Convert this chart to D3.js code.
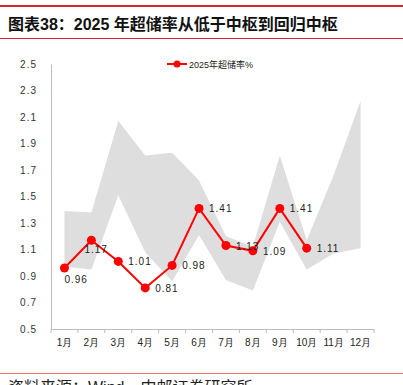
<!DOCTYPE html>
<html lang="zh">
<head>
<meta charset="UTF-8" />
<title>2025年超储率</title>
<script src="https://d3js.org/d3.v7.min.js"></script>
<style>
    body { margin: 0; background: #fff; }
    svg { display: block; font-family: "Liberation Sans", "Noto Sans CJK SC", sans-serif; }
</style>
</head>
<body>
<svg id="chart" width="403" height="385"></svg>
<script>
    // data
    var months = ["1月", "2月", "3月", "4月", "5月", "6月", "7月", "8月", "9月", "10月", "11月", "12月"];
    var rate2025 = [0.96, 1.17, 1.01, 0.81, 0.98, 1.41, 1.13, 1.09, 1.41, 1.11];
    var rangeHigh = [1.39, 1.38, 2.07, 1.81, 1.83, 1.62, 1.20, 1.12, 1.81, 1.17, 1.66, 2.22];
    var rangeLow = [0.97, 0.95, 1.51, 1.08, 0.86, 1.21, 0.87, 0.79, 1.31, 0.95, 1.07, 1.11];
    var yTicks = [0.5, 0.7, 0.9, 1.1, 1.3, 1.5, 1.7, 1.9, 2.1, 2.3, 2.5];
    var labelSide = ["below", "belowRight", "right", "right", "right", "right", "right", "right", "right", "right"];
    var seriesName = "2025年超储率%";

    var svg = d3.select("#chart");

    // header
    svg.append("line").attr("x1", 0).attr("x2", 403).attr("y1", 6).attr("y2", 6)
        .attr("stroke", "#d7262b").attr("stroke-width", 2);
    svg.append("text").attr("x", 8).attr("y", 30)
        .attr("font-size", 16).attr("font-weight", "bold").attr("fill", "#111")
        .text("图表38：2025 年超储率从低于中枢到回归中枢");
    svg.append("line").attr("x1", 0).attr("x2", 403).attr("y1", 38.5).attr("y2", 38.5)
        .attr("stroke", "#d7262b").attr("stroke-width", 1);

    // scales
    var x = d3.scaleBand().domain(months).range([51, 374]);
    var y = d3.scaleLinear().domain([0.5, 2.5]).range([329, 64]);
    var cx = d => x(d) + x.bandwidth() / 2;

    // shaded range
    var area = d3.area()
        .x((d, i) => cx(months[i]))
        .y0((d, i) => y(rangeLow[i]))
        .y1(d => y(d));
    svg.append("path").datum(rangeHigh)
        .attr("d", area)
        .attr("fill", "#dedede");

    // y axis
    var yAxis = svg.append("g").attr("transform", "translate(51,0)")
        .call(d3.axisLeft(y).tickValues(yTicks).tickSize(0).tickPadding(14)
            .tickFormat(d => d3.format(".1f")(d)));
    yAxis.select(".domain").attr("stroke", "#bbb");
    yAxis.selectAll("text").attr("font-size", 10).attr("fill", "#333")
        .attr("font-family", "Liberation Sans, sans-serif").style("letter-spacing", "1px");

    // x axis
    var xAxis = svg.append("g").attr("transform", "translate(0,329)")
        .call(d3.axisBottom(x).tickSize(0).tickPadding(10));
    xAxis.select(".domain").attr("stroke", "#bbb");
    xAxis.selectAll("text").attr("font-size", 10).attr("fill", "#222");
    svg.append("g").selectAll("line")
        .data(months.concat([null]))
        .join("line")
        .attr("x1", (d, i) => 51 + i * x.bandwidth())
        .attr("x2", (d, i) => 51 + i * x.bandwidth())
        .attr("y1", 329).attr("y2", 333)
        .attr("stroke", "#bbb");

    // series line
    var line = d3.line()
        .x((d, i) => cx(months[i]))
        .y(d => y(d));
    svg.append("path").datum(rate2025)
        .attr("d", line)
        .attr("fill", "none")
        .attr("stroke", "#ff0000")
        .attr("stroke-width", 2);
    svg.append("g").selectAll("circle")
        .data(rate2025)
        .join("circle")
        .attr("cx", (d, i) => cx(months[i]))
        .attr("cy", d => y(d))
        .attr("r", 4.5)
        .attr("fill", "#ff0000");

    // data labels
    svg.append("g").selectAll("text")
        .data(rate2025)
        .join("text")
        .attr("x", (d, i) => {
            var px = cx(months[i]);
            if (labelSide[i] === "below") return px;
            if (labelSide[i] === "belowRight") return px - 7;
            return px + 10;
        })
        .attr("y", (d, i) => {
            var py = y(d);
            if (labelSide[i] === "below") return py + 15;
            if (labelSide[i] === "belowRight") return py + 13;
            return py + 4;
        })
        .attr("font-size", 10).attr("fill", "#222")
        .style("letter-spacing", "1px")
        .text(d => d3.format(".2f")(d));

    // legend
    var leg = svg.append("g").attr("transform", "translate(167,64)");
    leg.append("line").attr("x1", 0).attr("x2", 20).attr("stroke", "#ff0000").attr("stroke-width", 2);
    leg.append("circle").attr("cx", 10).attr("r", 3.5).attr("fill", "#ff0000");
    leg.append("text").attr("x", 22).attr("y", 3.5)
        .attr("font-size", 9).attr("fill", "#222").text(seriesName);

    // footer
    svg.append("line").attr("x1", 0).attr("x2", 403).attr("y1", 373.5).attr("y2", 373.5)
        .attr("stroke", "#e57373").attr("stroke-width", 1);
    svg.append("text").attr("x", 8).attr("y", 393)
        .attr("font-size", 16).attr("fill", "#222")
        .text("资料来源：Wind，中邮证券研究所");
</script>
</body>
</html>
